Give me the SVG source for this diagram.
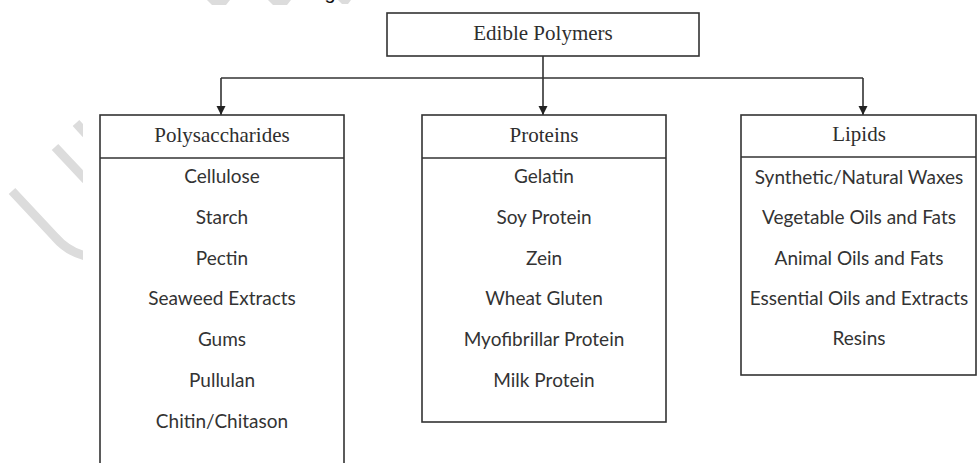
<svg xmlns="http://www.w3.org/2000/svg" width="978" height="463" viewBox="0 0 978 463">
  <style>
    .box { fill: #ffffff; stroke: #333333; stroke-width: 1.6; }
    .sep { stroke: #333333; stroke-width: 1.6; }
    .head { font-family: "Liberation Serif", "Times New Roman", serif; font-size: 21px; fill: #2e2e2e; text-anchor: middle; }
    .item { font-family: Lato, "Open Sans", "Liberation Sans", sans-serif; font-size: 19px; fill: #333333; text-anchor: middle; }
    .conn { fill: none; stroke: #333333; stroke-width: 1.6; }
    .wm { fill: none; stroke: #dcdcdc; stroke-width: 9; stroke-linecap: butt; }
  </style>
  <defs>
    <marker id="arrow" markerWidth="10" markerHeight="10" refX="9" refY="5" orient="auto" markerUnits="userSpaceOnUse">
      <path d="M0,0.5 L9,5 L0,9.5 Z" fill="#222222"/>
    </marker>
    <clipPath id="wmclip"><rect x="0" y="0" width="83" height="463"/></clipPath>
  </defs>
  <rect x="0" y="0" width="978" height="463" fill="#ffffff"/>

  <g id="watermark">
    <g clip-path="url(#wmclip)">
      <path class="wm" d="M76,123 L86,134"/>
      <path class="wm" d="M55,147 L86,180"/>
      <path class="wm" d="M12,191 L55,237 Q68,252 86,256"/>
    </g>
    <polygon points="207,0 230,0 226,5 212,5" fill="#dcdcdc"/>
    <polygon points="268,0 291,0 287,5 273,5" fill="#dcdcdc"/>
    <polygon points="338,0 351,0 348,4 342,4" fill="#dcdcdc"/>
    <text x="330" y="-1" font-family="Liberation Sans, Arial, sans-serif" font-size="20" fill="#111111" text-anchor="middle">g</text>
  </g>

  <g id="connectors">
    <line class="conn" x1="543" y1="56" x2="543" y2="78"/>
    <line class="conn" x1="221" y1="78" x2="863" y2="78"/>
    <line class="conn" x1="221" y1="78" x2="221" y2="115" marker-end="url(#arrow)"/>
    <line class="conn" x1="543" y1="78" x2="543" y2="115" marker-end="url(#arrow)"/>
    <line class="conn" x1="863" y1="78" x2="863" y2="115" marker-end="url(#arrow)"/>
  </g>

  <g id="edible-polymers">
    <rect class="box" x="387" y="13" width="312" height="43"/>
    <text class="head" x="543" y="40">Edible Polymers</text>
  </g>

  <g id="polysaccharides">
    <rect class="box" x="100" y="115" width="244" height="360"/>
    <line class="sep" x1="100" y1="158" x2="344" y2="158"/>
    <text class="head" x="222" y="142">Polysaccharides</text>
    <text class="item" x="222" y="183">Cellulose</text>
    <text class="item" x="222" y="224">Starch</text>
    <text class="item" x="222" y="265">Pectin</text>
    <text class="item" x="222" y="305">Seaweed Extracts</text>
    <text class="item" x="222" y="346">Gums</text>
    <text class="item" x="222" y="387">Pullulan</text>
    <text class="item" x="222" y="428">Chitin/Chitason</text>
  </g>

  <g id="proteins">
    <rect class="box" x="422" y="115" width="244" height="307"/>
    <line class="sep" x1="422" y1="158" x2="666" y2="158"/>
    <text class="head" x="544" y="142">Proteins</text>
    <text class="item" x="544" y="183">Gelatin</text>
    <text class="item" x="544" y="224">Soy Protein</text>
    <text class="item" x="544" y="265">Zein</text>
    <text class="item" x="544" y="305">Wheat Gluten</text>
    <text class="item" x="544" y="346">Myofibrillar Protein</text>
    <text class="item" x="544" y="387">Milk Protein</text>
  </g>

  <g id="lipids">
    <rect class="box" x="741" y="115" width="235" height="260"/>
    <line class="sep" x1="741" y1="157" x2="976" y2="157"/>
    <text class="head" x="859" y="141">Lipids</text>
    <text class="item" x="859" y="184">Synthetic/Natural Waxes</text>
    <text class="item" x="859" y="224">Vegetable Oils and Fats</text>
    <text class="item" x="859" y="265">Animal Oils and Fats</text>
    <text class="item" x="859" y="305">Essential Oils and Extracts</text>
    <text class="item" x="859" y="345">Resins</text>
  </g>
</svg>
